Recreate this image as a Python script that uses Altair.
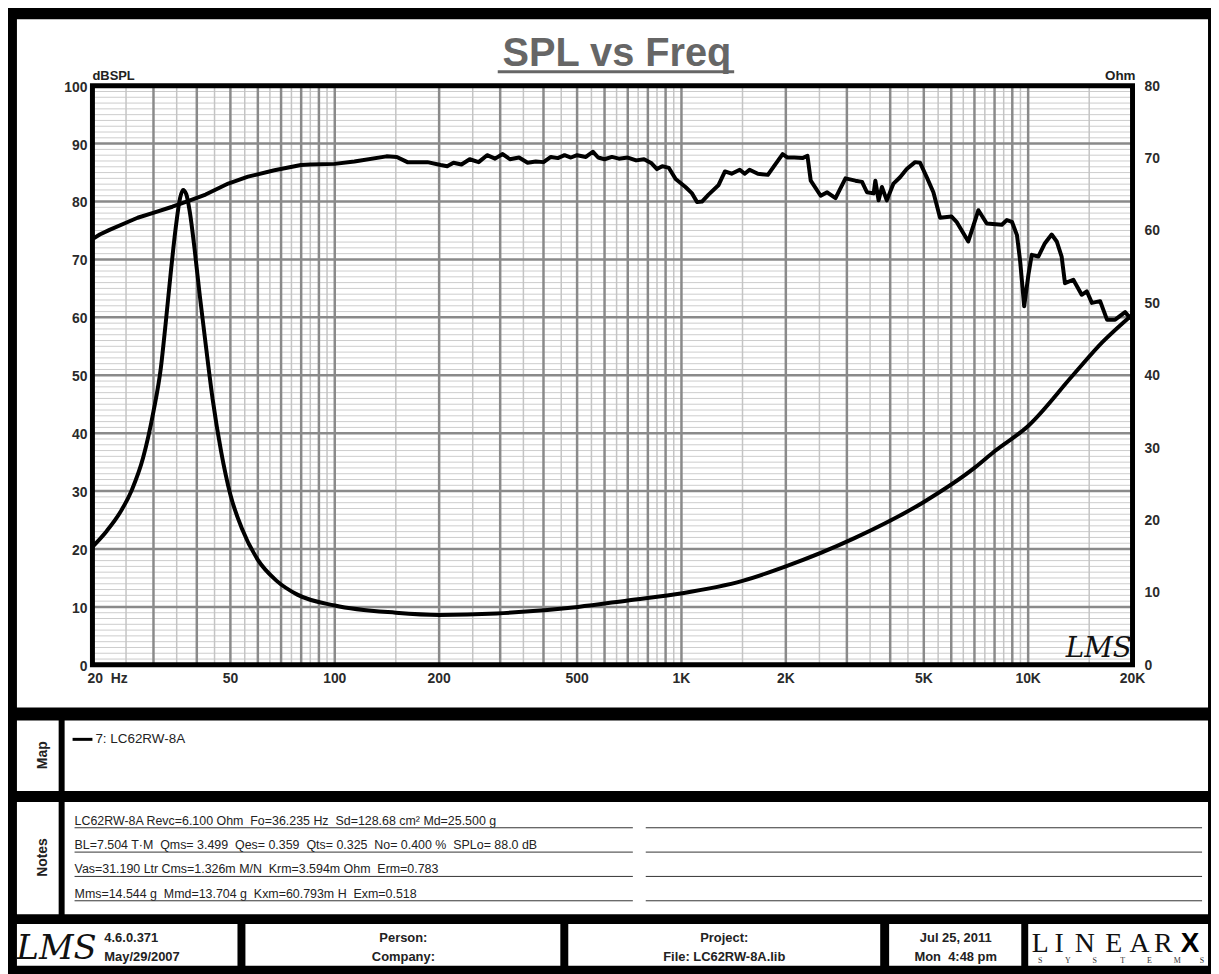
import altair as alt
import pandas as pd

# ---------------- data ----------------
spl_freq = [20, 21, 22.4, 24.9, 27, 30.1, 34, 37.9, 42.4, 49.3, 56.2, 67, 79.9, 85, 99.9, 113.9,
            141, 151, 162, 185, 202, 211, 220, 232, 245, 260, 275, 290, 305, 320, 340, 360, 380,
            400, 420, 440, 460, 480, 500, 530, 555, 575, 600, 630, 660, 700, 740, 780, 820, 850,
            880, 920, 962, 1027, 1073, 1109, 1146, 1197, 1278, 1335, 1395, 1473, 1522, 1572, 1661,
            1775, 1854, 1958, 2024, 2114, 2234, 2309, 2360, 2521, 2632, 2782, 2972, 3174, 3318,
            3428, 3584, 3624, 3704, 3786, 3911, 4088, 4271, 4464, 4720, 4878, 5098, 5329, 5570,
            6014, 6215, 6719, 7186, 7596, 8397, 8684, 8979, 9284, 9486, 9740, 10020, 10240, 10700,
            11180, 11690, 12090, 12490, 12770, 13500, 14270, 14760, 15270, 16130, 16880, 17820,
            19040, 19680, 20000]
spl_db = [73.5, 74.3, 75.1, 76.3, 77.2, 78.1, 79.1, 80.1, 81.2, 83.1, 84.3, 85.4, 86.3, 86.4, 86.5,
          86.9, 87.8, 87.7, 86.8, 86.8, 86.3, 86.1, 86.7, 86.4, 87.3, 86.8, 88.0, 87.4, 88.2, 87.3,
          87.6, 86.7, 86.9, 86.8, 87.7, 87.5, 88.0, 87.6, 88.0, 87.7, 88.6, 87.6, 87.3, 87.7, 87.4,
          87.6, 87.1, 87.3, 86.6, 85.6, 86.1, 85.8, 83.9, 82.5, 81.4, 79.9, 80.0, 81.2, 82.8, 85.2,
          84.8, 85.5, 84.8, 85.5, 84.8, 84.6, 86.2, 88.2, 87.6, 87.6, 87.5, 87.9, 83.6, 81.0, 81.6,
          80.6, 84.0, 83.6, 83.4, 81.6, 81.4, 83.6, 80.2, 82.5, 80.2, 83.1, 84.2, 85.6, 86.8, 86.7,
          84.2, 81.6, 77.2, 77.4, 76.5, 73.1, 78.5, 76.2, 76.0, 76.8, 76.5, 74.2, 69.6, 61.9, 67.4,
          70.8, 70.5, 72.8, 74.3, 73.1, 70.5, 65.9, 66.5, 63.9, 64.5, 62.5, 62.8, 59.6, 59.6, 60.9,
          59.9, 60.5]

imp_freq = [20, 22, 24, 26, 28, 30, 31.5, 32.5, 33.7, 34.8, 35.8, 36.5, 37.3, 38.2, 39.4, 40.8,
            42.5, 44.5, 47, 50, 54, 60, 68, 78, 100, 150, 200, 293, 503, 700, 1007, 1500, 2000,
            3155, 5003, 7000, 8000, 10000, 13460, 16400, 20000]
imp_ohm = [16.3, 18.5, 21.0, 24.2, 28.6, 35.0, 41.0, 47.0, 54.5, 60.5, 64.5, 65.6, 65.0, 62.5,
           57.5, 51.0, 44.0, 36.5, 29.5, 23.5, 18.8, 14.5, 11.6, 9.7, 8.2, 7.2, 6.9, 7.1, 8.0,
           8.9, 9.9, 11.6, 13.6, 17.5, 22.5, 27.2, 29.5, 33.0, 40.0, 44.6, 48.4]

grid_dark = [30, 40, 50, 60, 70, 80, 90, 100, 200, 300, 400, 500, 600, 700, 800, 900, 1000,
             2000, 3000, 4000, 5000, 6000, 7000, 8000, 9000, 10000]
grid_light = [25, 35, 45, 55, 65, 75, 85, 95, 150, 250, 350, 450, 550, 650, 750, 850, 950,
              1500, 2500, 3500, 4500, 5500, 6500, 7500, 8500, 9500, 15000]
db_major = [10, 20, 30, 40, 50, 60, 70, 80, 90]
db_minor = [v for v in range(1, 100) if v % 10 != 0]

spl_ticks = [0, 10, 20, 30, 40, 50, 60, 70, 80, 90, 100]
ohm_ticks = [0, 10, 20, 30, 40, 50, 60, 70, 80]
freq_ticks = [20, 50, 100, 200, 500, 1000, 2000, 5000, 10000, 20000]
freq_labels = ["20\u00a0\u00a0Hz", "50", "100", "200", "500", "1K", "2K", "5K", "10K", "20K"]

NB = "\u00a0"
notes_lines = [
    f"LC62RW-8A Revc=6.100 Ohm {NB}Fo=36.235 Hz {NB}Sd=128.68 cm\u00b2 Md=25.500 g",
    f"BL=7.504 T\u00b7M {NB}Qms= 3.499 {NB}Qes= 0.359 {NB}Qts= 0.325 {NB}No= 0.400 % {NB}SPLo= 88.0 dB",
    f"Vas=31.190 Ltr Cms=1.326m M/N {NB}Krm=3.594m Ohm {NB}Erm=0.783",
    f"Mms=14.544 g {NB}Mmd=13.704 g {NB}Kxm=60.793m H {NB}Exm=0.518",
]

# ---------------- layout helpers (image pixel -> plot coords) ----------------
OX, OY = 93, 83          # plot origin in the picture
W, H = 1047, 583          # plot size
FONT = "Liberation Sans"
NARROW = "Liberation Sans Narrow, Liberation Sans"


def X(px):
    return px - OX


def Y(py):
    return py - OY


one = pd.DataFrame({"_": [0]})


def rect(x0, y0, x1, y1, fill="white"):
    return alt.Chart(one).mark_rect(fill=fill).encode(
        x=alt.value(X(x0)), x2=alt.value(X(x1)), y=alt.value(Y(y0)), y2=alt.value(Y(y1)))


def hline(x0, x1, y, color="black", sw=1):
    return alt.Chart(one).mark_rule(color=color, strokeWidth=sw).encode(
        x=alt.value(X(x0)), x2=alt.value(X(x1)), y=alt.value(Y(y)))


def label(text, px, py, size=13, weight="bold", align="left", baseline="alphabetic",
          color="#222222", font=FONT, angle=0, style="normal"):
    kw = dict(text=text, fontSize=size, fontWeight=weight, align=align, baseline=baseline,
              color=color, font=font, fontStyle=style)
    if angle:
        kw["angle"] = angle
    return alt.Chart(one).mark_text(**kw).encode(x=alt.value(X(px)), y=alt.value(Y(py)))


xs = alt.Scale(type="log", domain=[20, 20000])
ys_db = alt.Scale(domain=[0, 100])
ys_ohm = alt.Scale(domain=[0, 80])

layers = []

# white panels on the black sheet
layers += [
    rect(17, 16, 1216, 709),
    rect(17, 722, 59, 793), rect(65, 722, 1216, 793),
    rect(17, 804, 59, 917), rect(65, 804, 1216, 917),
    rect(17, 927, 239, 969), rect(247, 927, 564, 969), rect(572, 927, 886, 969),
    rect(895, 927, 1028, 969), rect(1035, 927, 1216, 969),
]

# grid
layers += [
    alt.Chart(pd.DataFrame({"v": db_minor})).mark_rule(color="#cdcdcd", strokeWidth=1).encode(
        y=alt.Y("v:Q", scale=ys_db, axis=None)),
    alt.Chart(pd.DataFrame({"f": grid_light})).mark_rule(color="#c4c4c4", strokeWidth=1.5).encode(
        x=alt.X("f:Q", scale=xs, axis=None)),
    alt.Chart(pd.DataFrame({"f": grid_dark})).mark_rule(color="#8a8a8a", strokeWidth=2.5).encode(
        x=alt.X("f:Q", scale=xs, axis=None)),
    alt.Chart(pd.DataFrame({"v": db_major})).mark_rule(color="#8a8a8a", strokeWidth=2.5).encode(
        y=alt.Y("v:Q", scale=ys_db, axis=None)),
]

# curves
layers += [
    alt.Chart(pd.DataFrame({"f": spl_freq, "db": spl_db})).mark_line(
        color="black", strokeWidth=4, strokeJoin="round").encode(
        x=alt.X("f:Q", scale=xs, axis=None), y=alt.Y("db:Q", scale=ys_db, axis=None)),
    alt.Chart(pd.DataFrame({"f": imp_freq, "ohm": imp_ohm})).mark_line(
        color="black", strokeWidth=4, strokeJoin="round", interpolate="monotone").encode(
        x=alt.X("f:Q", scale=xs, axis=None), y=alt.Y("ohm:Q", scale=ys_ohm, axis=None)),
]

# plot frame
layers.append(alt.Chart(one).mark_rect(filled=False, stroke="black", strokeWidth=5).encode(
    x=alt.value(0), x2=alt.value(W), y=alt.value(0), y2=alt.value(H)))

# tick labels
layers += [
    alt.Chart(pd.DataFrame({"v": spl_ticks})).mark_text(
        align="right", baseline="middle", fontSize=14, fontWeight="bold", font=FONT,
        color="#2a2a2a", dy=2).encode(
        y=alt.Y("v:Q", scale=ys_db, axis=None), x=alt.value(-5), text="v:Q"),
    alt.Chart(pd.DataFrame({"v": ohm_ticks})).mark_text(
        align="left", baseline="middle", fontSize=14, fontWeight="bold", font=FONT,
        color="#2a2a2a", dy=1).encode(
        y=alt.Y("v:Q", scale=ys_ohm, axis=None), x=alt.value(W + 12), text="v:Q"),
    alt.Chart(pd.DataFrame({"f": freq_ticks[:1], "lab": freq_labels[:1]})).mark_text(
        align="left", baseline="middle", fontSize=14, fontWeight="bold", font=FONT,
        color="#2a2a2a", dx=-5).encode(
        x=alt.X("f:Q", scale=xs, axis=None), y=alt.value(H + 14), text="lab:N"),
    alt.Chart(pd.DataFrame({"f": freq_ticks[1:], "lab": freq_labels[1:]})).mark_text(
        align="center", baseline="middle", fontSize=14, fontWeight="bold", font=FONT,
        color="#2a2a2a").encode(
        x=alt.X("f:Q", scale=xs, axis=None), y=alt.value(H + 14), text="lab:N"),
]

# titles inside the chart panel
layers += [
    label("SPL vs Freq", 621, 63, size=40, align="center", color="#666666"),
    hline(501, 739, 69, color="#666666", sw=3),
    label("dBSPL", 93, 77, size=13),
    label("Ohm", 1143, 77, size=13.5, align="right"),
    label("LMS", 1106, 658, size=28, weight="normal", align="center", color="#111111",
          font="DejaVu Serif", style="italic"),
]

# map panel
layers += [
    label("Map", 43, 757, size=14, align="center", baseline="middle", angle=270),
    hline(73, 93, 741, color="black", sw=3),
    label("7: LC62RW-8A", 96, 741, size=13.5, weight="normal", baseline="middle"),
]

# notes panel
layers.append(label("Notes", 43, 860, size=14, align="center", baseline="middle", angle=270))
for i, line in enumerate(notes_lines):
    yb = 827 + 24.5 * i
    layers += [
        label(line, 75, yb, size=12.5, weight="normal", color="#222222"),
        hline(75, 637, yb + 3, color="#333333", sw=1),
        hline(650, 1210, yb + 3, color="#333333", sw=1),
    ]

# footer
layers += [
    label("LMS", 57, 962, size=34, weight="normal", align="center", color="#111111",
          font="DejaVu Serif", style="italic"),
    label("4.6.0.371", 105, 945, size=13, font=NARROW),
    label("May/29/2007", 105, 964, size=13, font=NARROW),
    label("Person:", 406, 945, size=13, align="center", font=NARROW),
    label("Company:", 406, 964, size=13, align="center", font=NARROW),
    label("Project:", 729, 945, size=13, align="center", font=NARROW),
    label("File: LC62RW-8A.lib", 729, 964, size=13, align="center", font=NARROW),
    label("Jul 25, 2011", 962, 945, size=13, align="center", font=NARROW),
    label("Mon\u00a0\u00a04:48 pm", 962, 964, size=13, align="center", font=NARROW),
]
logo_x = [1047, 1066, 1092, 1121, 1147, 1171]
for ch, lx in zip("LINEAR", logo_x):
    layers.append(label(ch, lx, 955, size=28, weight="normal", align="center",
                        color="#111111", font="Liberation Serif"))
layers.append(label("X", 1198, 955, size=28, weight="bold", align="center", color="#000000"))
for ch, lx in zip("SYSTEMS", [1047, 1075, 1102, 1130, 1157, 1185, 1210]):
    layers.append(label(ch, lx, 966, size=8, weight="normal", align="center",
                        color="#333333", font="Liberation Serif"))

chart = alt.layer(*layers).resolve_scale(y="independent").properties(
    width=W, height=H,
    autosize=alt.AutoSizeParams(type="none"),
    padding={"left": 85, "top": 75, "right": 79, "bottom": 308},
    background="black",
).configure_view(stroke=None)

chart.save("out.html", embed_options={"renderer": "svg", "actions": False})
